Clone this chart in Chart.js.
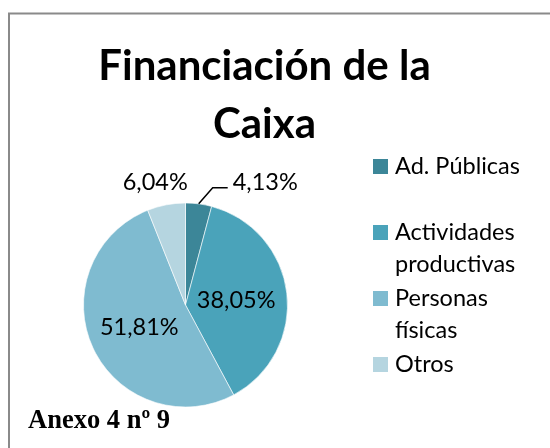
<!DOCTYPE html>
<html>
<head>
<meta charset="utf-8">
<script src="https://cdn.jsdelivr.net/npm/chart.js@4"></script>
<style>
  body { margin: 0; background: #fff; }
  canvas { display: block; }
</style>
</head>
<body>
<canvas id="pie-chart" width="550" height="448"></canvas>
<script>
// values
const categories = ["Ad. Públicas", "Actividades productivas", "Personas físicas", "Otros"];
const legendLines = [["Ad. Públicas"], ["Actividades", "productivas"], ["Personas", "físicas"], ["Otros"]];
const shares = [4.13, 38.05, 51.81, 6.04];
const sliceColors = ["#3c8698", "#4aa3ba", "#7fbbd0", "#b5d5e0"];
const titleLines = ["Financiación de la", "Caixa"];
const footnote = "Anexo 4 nº 9";

// format like 38,05%
function pct(v) {
  return v.toFixed(2).replace(".", ",") + "%";
}

// where the small slices put their labels (offset from the arc edge)
const outsideLabels = {
  0: { dx: 34, dy: -21, align: "left", leader: true },
  3: { dx: -11, dy: -22, align: "center", leader: false },
};

// frame, title, labels, legend, footnote
const decorations = {
  id: "decorations",
  beforeDraw(chart) {
    const ctx = chart.ctx;
    ctx.save();
    ctx.fillStyle = "#fff";
    ctx.fillRect(0, 0, chart.width, chart.height);
    ctx.strokeStyle = "#8a8a8a";
    ctx.lineWidth = 2;
    ctx.beginPath();
    ctx.moveTo(9, chart.height);
    ctx.lineTo(9, 13.5);
    ctx.lineTo(chart.width, 13.5);
    ctx.stroke();
    ctx.restore();
  },
  afterDraw(chart) {
    const ctx = chart.ctx;
    const arcs = chart.getDatasetMeta(0).data;
    ctx.save();
    ctx.fillStyle = "#000";

    // title
    ctx.textAlign = "center";
    ctx.textBaseline = "alphabetic";
    ctx.font = "bold 42px Lato";
    titleLines.forEach((t, i) => ctx.fillText(t, 264.5, 80 + i * 58));

    // slice labels
    ctx.font = "23.5px Lato";
    ctx.textBaseline = "middle";
    arcs.forEach((arc, i) => {
      const text = pct(shares[i]);
      const mid = (arc.startAngle + arc.endAngle) / 2;
      const cfg = outsideLabels[i];
      if (!cfg) {
        const r = arc.outerRadius * 0.5;
        ctx.textAlign = "center";
        ctx.fillText(text, arc.x + Math.cos(mid) * r, arc.y + Math.sin(mid) * r + 1);
        return;
      }
      const ex = arc.x + Math.cos(mid) * arc.outerRadius;
      const ey = arc.y + Math.sin(mid) * arc.outerRadius;
      if (cfg.leader) {
        ctx.strokeStyle = "#000";
        ctx.lineWidth = 1.5;
        ctx.beginPath();
        ctx.moveTo(ex, ey);
        ctx.lineTo(ex + 14, ey - 16);
        ctx.lineTo(ex + 29, ey - 16);
        ctx.stroke();
      }
      ctx.textAlign = cfg.align;
      ctx.fillText(text, ex + cfg.dx, ey + cfg.dy);
    });

    // legend
    ctx.textAlign = "left";
    legendLines.forEach((lines, i) => {
      const y = 166 + i * 66;
      ctx.fillStyle = sliceColors[i];
      ctx.fillRect(373, y - 7, 15, 15);
      ctx.fillStyle = "#000";
      lines.forEach((l, j) => ctx.fillText(l, 395, y + j * 32));
    });

    // footnote
    ctx.textBaseline = "alphabetic";
    ctx.font = "bold 26.5px 'Liberation Serif'";
    ctx.fillText(footnote, 28, 428);
    ctx.restore();
  },
};

const ctxPie = document.getElementById("pie-chart");
new Chart(ctxPie, {
  type: "pie",
  data: {
    labels: categories,
    datasets: [
      {
        label: "Financiación",
        data: shares,
        backgroundColor: sliceColors,
        borderColor: "rgba(255,255,255,0.6)",
        borderWidth: 1,
      },
    ],
  },
  options: {
    responsive: false,
    animation: false,
    events: [],
    layout: { padding: { left: 83, right: 262, top: 202, bottom: 40 } },
    plugins: {
      legend: { display: false },
      tooltip: { enabled: false },
      title: { display: false },
    },
  },
  plugins: [decorations],
});
</script>
</body>
</html>
